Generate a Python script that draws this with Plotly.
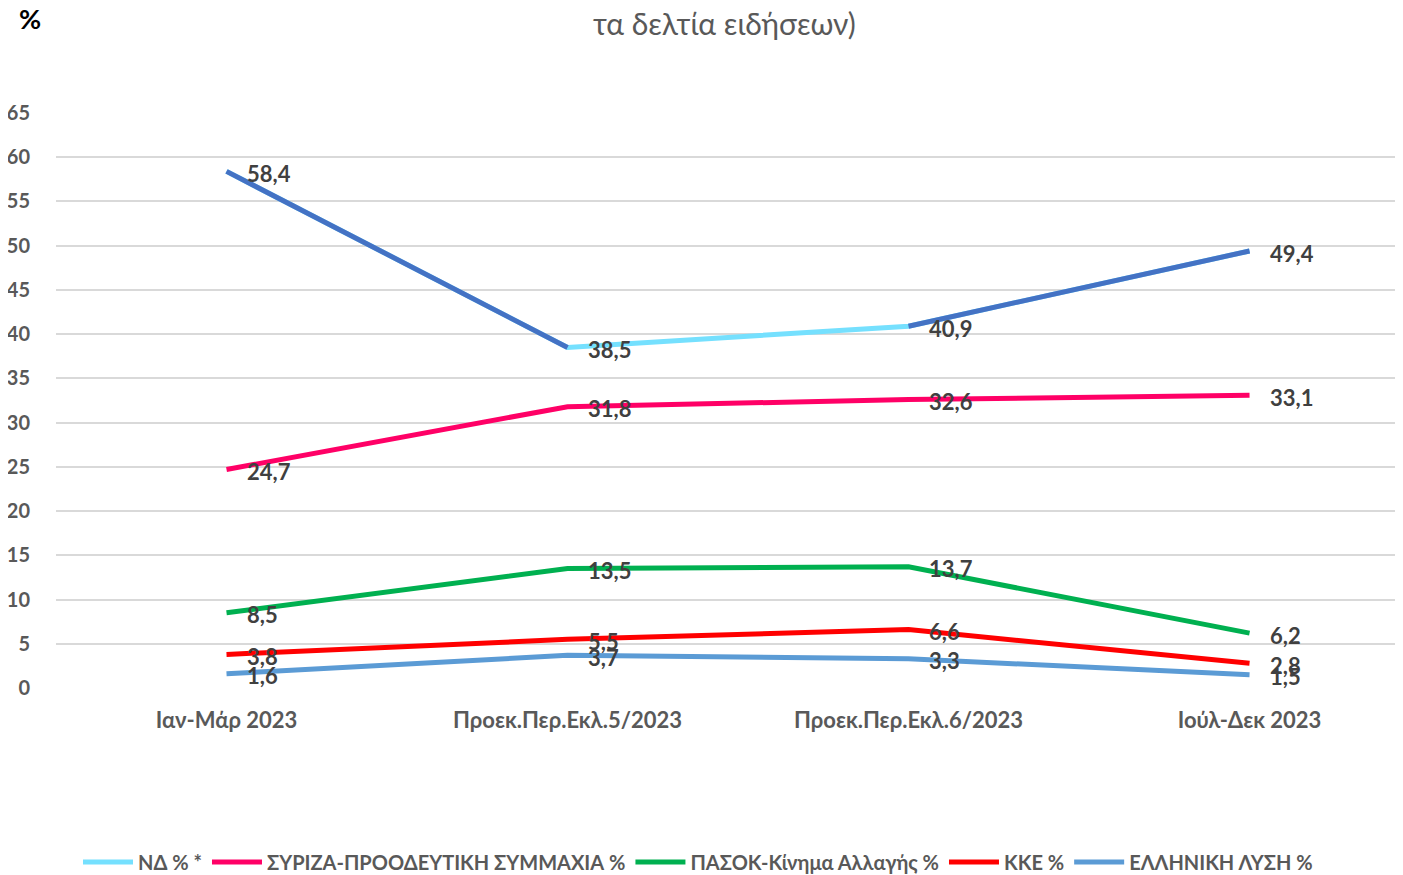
import plotly.graph_objects as go

categories = ["Ιαν-Μάρ 2023", "Προεκ.Περ.Εκλ.5/2023", "Προεκ.Περ.Εκλ.6/2023", "Ιούλ-Δεκ 2023"]
nd = [58.4, 38.5, 40.9, 49.4]
syriza = [24.7, 31.8, 32.6, 33.1]
pasok = [8.5, 13.5, 13.7, 6.2]
kke = [3.8, 5.5, 6.6, 2.8]
ellisi = [1.6, 3.7, 3.3, 1.5]
names = ["ΝΔ % *", "ΣΥΡΙΖΑ-ΠΡΟΟΔΕΥΤΙΚΗ ΣΥΜΜΑΧΙΑ %", "ΠΑΣΟΚ-Κίνημα Αλλαγής %", "ΚΚΕ %", "ΕΛΛΗΝΙΚΗ ΛΥΣΗ %"]
colors = ["#75E0FE", "#FF0066", "#00B050", "#FF0000", "#5B9BD5"]
nd_dark = "#4472C4"
yticks = list(range(0, 70, 5))

FONT = "Lato, 'Open Sans', sans-serif"
W, H = 1395, 867
L, T, B = 48, 105, 187
PH = H - T - B

fig = go.Figure()
series = [nd, syriza, pasok, kke, ellisi]
xidx = list(range(len(categories)))
for vals, name, col in zip(series, names, colors):
    fig.add_trace(go.Scatter(x=xidx, y=vals, mode="lines", name=name,
                             line=dict(color=col, width=5)))
# dark segments for ND (first and last segment)
fig.add_trace(go.Scatter(x=[xidx[0], xidx[1], None, xidx[2], xidx[3]],
                         y=[nd[0], nd[1], None, nd[2], nd[3]],
                         mode="lines", showlegend=False, hoverinfo="skip",
                         line=dict(color=nd_dark, width=5)))

for vals in series:
    for i, v in enumerate(vals):
        fig.add_annotation(x=xidx[i], y=v, text=f"{v:.1f}".replace(".", ","),
                           showarrow=False, xanchor="left", yanchor="middle",
                           xshift=18, yshift=-2,
                           font=dict(family=FONT, size=22, color="#404040", weight="bold"))

fig.add_annotation(xref="paper", yref="paper", x=0.0, y=(H - 10 - B) / PH,
                   text="%", showarrow=False, xanchor="center", yanchor="middle",
                   xshift=22 - L,
                   font=dict(family=FONT, size=27, color="#000000", weight="bold"))
fig.add_annotation(xref="paper", yref="paper", x=(716 - L) / (W - L), y=(H - 15 - B) / PH,
                   text="τα δελτία ειδήσεων)", showarrow=False, xanchor="center", yanchor="middle",
                   font=dict(family=FONT, size=30, color="#595959"))

fig.update_layout(
    width=W, height=H,
    margin=dict(l=L, r=0, t=T, b=B, autoexpand=False),
    plot_bgcolor="white", paper_bgcolor="white",
    showlegend=True,
    legend=dict(orientation="h", x=(690 - L) / (W - L), xanchor="center", y=-(854 - (H - B)) / PH,
                yanchor="middle",
                font=dict(family=FONT, size=20, color="#595959", weight="bold"),
                itemwidth=50, tracegroupgap=0),
    xaxis=dict(range=[-0.5, 3.45], tickmode="array", tickvals=xidx, ticktext=categories,
               showgrid=False, zeroline=False, showline=False, ticks="", automargin=False,
               ticklabelstandoff=17,
               tickfont=dict(family=FONT, size=22, color="#595959", weight="bold")),
    yaxis=dict(range=[0, 65], tickmode="array", tickvals=yticks, ticktext=[str(t) for t in yticks],
               showgrid=True, gridcolor="#D9D9D9", gridwidth=1.5, zeroline=False,
               showline=False, ticks="", ticklabelstandoff=25, automargin=False,
               tickfont=dict(family=FONT, size=20, color="#595959", weight="bold")),
)
fig.write_html("out.html")
